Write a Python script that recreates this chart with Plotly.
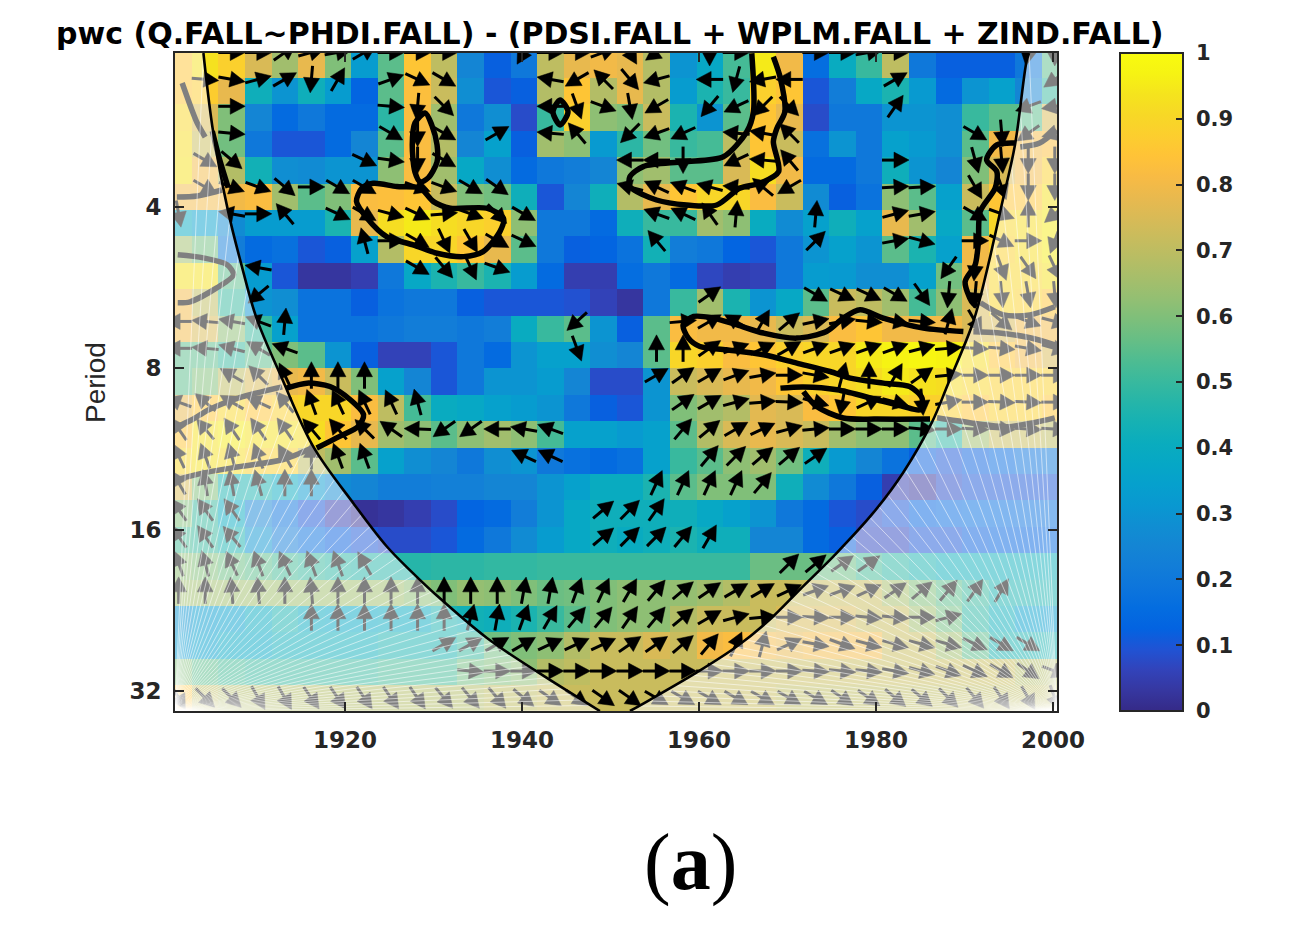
import math
import numpy as np
import plotly.graph_objects as go

TITLE = "pwc (Q.FALL~PHDI.FALL) - (PDSI.FALL + WPLM.FALL + ZIND.FALL)"
X_TICKS = [1920, 1940, 1960, 1980, 2000]
Y_TICKS = [2, 3, 4, 5]
Y_TICK_TEXT = ["4", "8", "16", "32"]
CB_TICKS = [0, .1, .2, .3, .4, .5, .6, .7, .8, .9, 1]
CB_TEXT = ["0", "0.1", "0.2", "0.3", "0.4", "0.5", "0.6", "0.7", "0.8", "0.9", "1"]

# Coherence (percent), top band first, one value per three years
coherence = [
 [85,93,88,75,65,78,60,33,55,85,70,25,12,20,70,78,80,78,68,30,38,52,95,80,16,40,50,70,20,12,12,12,20,55],
 [85,87,78,42,30,42,33,13,55,83,72,28,10,12,68,85,68,78,68,33,45,50,88,85,10,22,38,45,32,15,30,35,25,50],
 [90,75,60,25,15,20,15,15,48,82,65,20,28,8,50,88,62,60,72,45,30,55,85,78,8,20,20,30,30,28,50,55,55,75],
 [92,72,58,20,10,10,15,25,55,82,68,25,35,12,65,62,32,48,58,50,52,70,85,72,17,30,20,35,32,28,55,80,80,83],
 [93,80,68,43,28,27,30,30,62,82,65,38,28,15,20,22,25,62,65,55,55,75,92,80,15,15,20,42,30,25,60,75,80,88],
 [80,80,80,82,65,55,60,82,83,85,72,60,58,42,10,25,42,68,78,85,90,90,82,72,27,12,18,62,55,35,72,85,85,93],
 [40,35,27,33,33,33,45,78,92,95,92,90,88,62,20,20,15,42,50,50,65,62,40,27,35,42,35,78,65,38,55,90,92,95],
 [65,58,22,15,17,10,12,35,68,90,90,85,78,55,20,12,13,18,43,22,20,13,10,20,30,35,30,55,45,35,80,88,92,95],
 [93,93,55,33,10,3,3,5,20,38,45,50,45,33,15,5,5,16,20,15,7,5,6,20,33,32,28,28,35,58,80,90,90,93],
 [80,70,50,30,28,18,18,12,18,20,20,12,10,10,10,9,6,3,20,50,65,45,30,38,55,72,70,65,52,62,75,90,88,85],
 [80,75,62,50,35,18,18,18,20,22,22,20,22,40,50,55,30,12,55,82,80,80,78,72,75,82,85,80,80,80,75,75,80,80],
 [55,55,50,55,60,55,30,12,6,6,10,20,15,30,35,35,28,25,55,90,88,82,85,88,90,90,95,97,98,97,92,85,80,75],
 [55,60,70,75,78,80,72,60,35,25,10,20,30,30,33,25,8,8,30,72,75,78,80,85,88,90,92,95,93,92,90,88,88,88],
 [78,85,90,85,88,90,90,82,70,52,40,38,35,33,30,20,12,10,30,60,65,68,77,75,82,85,90,90,88,88,85,88,88,85],
 [85,93,95,93,93,92,85,78,65,62,55,62,65,62,52,35,35,32,35,55,68,75,78,75,72,65,62,62,55,48,65,72,72,70],
 [90,93,92,88,88,70,65,55,35,28,25,20,28,30,20,17,15,17,35,50,55,62,65,58,42,32,25,18,12,10,12,15,18,20],
 [75,60,45,45,40,32,27,25,22,22,23,23,25,25,30,35,40,40,45,55,60,60,60,42,27,20,12,5,3,8,10,10,10,10],
 [60,50,40,25,18,10,5,2,3,5,8,13,15,22,30,38,42,42,42,42,38,35,30,20,15,10,8,10,13,15,16,16,17,18],
 [52,50,45,30,22,17,12,10,8,8,10,15,20,27,33,38,42,40,42,45,42,42,25,25,15,12,7,7,10,10,12,13,13,14],
 [62,60,57,55,52,50,48,47,47,47,48,48,49,49,50,50,50,50,50,50,50,50,57,57,57,57,52,48,45,42,42,42,42,42],
 [65,65,65,65,65,65,65,65,65,62,60,63,62,60,57,58,60,62,62,63,65,68,72,72,72,72,72,66,60,55,50,45,45,45],
 [30,33,35,40,45,40,38,38,40,40,45,43,42,45,50,55,60,62,62,68,72,72,72,75,75,75,72,72,65,58,48,42,35,33],
 [32,35,38,38,42,42,42,42,45,45,45,50,58,60,62,68,72,72,75,72,80,82,80,78,80,80,80,72,72,65,55,45,45,45],
 [60,55,52,50,50,50,50,50,52,52,52,58,60,62,68,70,72,72,72,72,72,72,72,72,72,72,72,72,72,72,72,72,68,68],
 [85,70,68,68,68,68,68,68,68,68,68,68,70,70,72,72,72,72,72,72,72,72,72,70,70,70,70,70,70,70,70,70,70,70],
]
heat_years = [1901.2 + 3 * i for i in range(34)]
heat_log2_period = [1.119 + 0.1635 * r for r in range(25)]

# Phase arrows: screen angle in degrees at {column: angle}, top row first
phase_rows = [
 {2:0,3:0,4:35,5:15,6:10,7:30,8:0,9:0,10:0,13:-120,14:0,15:0,16:20,17:-60,18:215,20:-90,21:0,24:0,25:0,26:10,27:0,32:-100,33:-90},
 {1:-5,2:-10,3:15,4:30,5:-95,6:60,8:20,9:-25,10:-30,14:170,15:210,16:135,17:-50,18:195,20:180,21:255,22:190,23:180,27:30,33:215},
 {2:0,8:-5,9:-95,10:-45,14:180,15:-70,16:-20,17:-80,18:210,20:230,21:205,22:225,23:-45,27:55,32:200,33:190},
 {2:-5,8:-30,9:-90,10:-30,12:30,14:175,15:130,17:225,18:200,19:205,21:175,22:170,23:135,30:-30,31:-85,32:215,33:195},
 {1:-30,2:-40,7:-25,8:-8,9:-90,10:-30,17:180,18:180,19:-90,21:205,22:175,23:130,27:0,30:-75,31:-85,32:-90,33:-90},
 {1:-30,2:-20,3:-20,4:-40,5:0,6:-30,7:-30,9:-20,10:-20,11:-30,12:-35,17:165,18:155,19:160,20:165,21:175,22:140,23:210,27:3,28:3,30:-60,31:-70,32:-90,33:-90},
 {0:-80,2:170,3:0,4:130,6:-25,7:-30,8:-15,9:-25,10:5,11:-20,12:-45,13:-30,18:160,19:155,20:125,21:85,24:85,27:15,28:10,30:-30,31:-20,32:90,33:220},
 {7:105,8:0,9:-30,10:-65,11:-60,12:-30,13:-25,18:130,24:45,27:10,28:-15,30:0,31:-25,32:0,33:250},
 {3:170,9:-30,10:-50,11:-65,12:-20,29:235,30:-95,31:-70,32:-55,33:-65},
 {3:220,20:35,24:-30,25:-25,26:-25,27:-30,28:-55,29:-95,30:-95,31:-85,32:-80,33:-85},
 {0:180,1:175,2:170,3:160,4:85,15:222,19:5,20:30,21:150,22:60,23:40,24:12,25:10,26:-5,27:-10,28:-5,29:75,30:-60,31:-40,32:-20,33:-15},
 {0:180,1:175,2:165,3:150,4:160,15:-70,19:90,18:90,20:35,21:20,22:25,23:30,24:20,25:20,26:20,27:20,28:15,29:5,30:-3,31:-5,32:-10,33:-15},
 {2:150,3:135,4:115,5:90,6:90,7:90,18:30,19:35,20:30,21:20,22:10,23:0,24:-10,25:75,26:90,27:60,28:35,29:5,30:0,31:0,32:0,33:0},
 {0:160,1:140,2:150,3:155,4:130,5:110,6:115,7:115,8:115,9:105,19:35,20:30,21:15,22:5,23:-3,24:-15,25:-100,26:25,27:-15,28:-85,29:10,30:0,31:-3,32:-3,33:0},
 {0:125,1:130,2:125,3:125,4:125,5:130,6:130,7:135,8:145,9:178,10:215,11:215,12:180,13:170,14:160,19:50,20:40,21:30,22:25,23:15,24:5,25:0,26:0,27:0,28:-5,29:0,30:-3,31:-3,32:-3,33:-3},
 {0:115,1:110,2:105,3:110,4:120,5:90,6:110,7:110,13:155,14:155,20:50,21:45,22:40,23:40,24:35},
 {0:120,1:100,2:100,3:105,4:90,5:90,18:65,19:65,20:65,21:65,22:50},
 {0:125,1:125,2:125,16:40,17:45,18:55},
 {0:125,1:125,2:130,16:40,17:45,18:45,19:50,20:60},
 {0:110,1:105,2:115,3:110,4:115,5:110,6:110,7:120,23:45,24:40,25:35,26:35},
 {0:90,1:90,2:95,3:95,4:90,5:95,6:90,7:90,8:90,9:90,10:90,11:90,12:90,13:80,14:80,15:70,16:65,17:60,18:50,19:40,20:35,21:30,22:30,23:25,24:20,25:20,26:25,27:35,28:40,29:50,30:55,31:60},
 {5:90,6:90,7:90,8:90,9:90,10:90,11:75,12:80,13:70,14:60,15:50,16:50,17:55,18:50,19:40,20:30,21:15,22:5,23:0,24:-3,25:0,26:-5,27:-5,28:0,29:15},
 {10:30,11:30,12:30,13:30,14:25,15:25,16:25,17:35,18:35,19:40,20:50,21:65,22:75,23:25,24:-10,25:-20,26:-15,27:-15,28:-15,29:-15,30:-25,31:-30,32:-30},
 {11:-5,12:0,13:0,14:0,15:0,16:0,17:0,18:0,19:0,20:0,21:0,22:0,23:0,24:-3,25:-5,26:-5,27:-10,28:-15,29:-20,30:-25,31:-30,32:-35,33:-20},
 {0:-60,1:-45,2:-45,3:-60,4:-60,5:-55,6:-55,7:-55,8:-55,9:-55,10:-50,11:-50,12:-50,13:-40,14:-35,15:-35,16:-35,17:-35,18:-30,19:-30,20:-30,21:-30,22:-30,23:-30,24:-30,25:-35,26:-35,27:-40,28:-40,29:-45,30:-50,31:-55,32:-60,33:-70},
]
arrow_years = [1901.2 + 3 * i for i in range(34)]
arrow_log2_period = [1.043 + r / 6 for r in range(25)]

# Cone of influence
coi_left_years = [1904, 1905.1, 1906.8, 1908.3, 1910, 1912.7, 1916.4, 1920.9, 1924.7, 1927.5, 1930.4, 1936, 1941.7, 1948.8]
coi_left_log2 = [1.046, 1.534, 2.029, 2.359, 2.689, 3.04, 3.484, 3.833, 4.103, 4.26, 4.41, 4.67, 4.88, 5.124]
coi_right_years = [1952.2, 1954.5, 1959.75, 1964.3, 1968, 1971.4, 1975.6, 1979.7, 1983.06, 1986.3, 1988.1, 1991, 1992.5, 1994.2, 1995.7, 1997, 1997.3]
coi_right_log2 = [5.124, 5.053, 4.885, 4.723, 4.557, 4.371, 4.142, 3.895, 3.647, 3.337, 3.102, 2.71, 2.4, 1.988, 1.616, 1.1, 1.046]

# Significance contours: (years, log2 period)
contours = [
 ([1905.0, 1905.8, 1906.8], [1.53, 1.70, 1.88]),
 ([1929.05, 1927.9, 1927.6, 1927.9, 1928.5, 1929.4, 1930.4, 1930.4, 1929.8, 1929.05],
  [1.418, 1.48, 1.616, 1.783, 1.845, 1.82, 1.721, 1.616, 1.492, 1.418]),
 ([1921.9, 1923.2, 1925.85, 1928.5, 1930, 1931.9, 1936, 1937.9, 1937.5, 1935.6, 1933.4, 1930.4, 1927.7, 1924.7, 1922.5, 1921.3, 1921.9],
  [1.884, 1.853, 1.874, 1.884, 1.967, 2.008, 2.008, 2.07, 2.153, 2.277, 2.308, 2.287, 2.235, 2.184, 2.07, 1.967, 1.884]),
 ([1944.3, 1943.5, 1944.3, 1945.2, 1944.3], [1.337, 1.41, 1.492, 1.41, 1.337]),
 ([1965.96, 1966.15, 1965.4, 1962.75, 1958.2, 1953.7, 1952.2, 1952.2, 1955.2, 1958.6, 1962, 1964.6, 1966.9, 1969, 1968.4, 1968.8, 1969.7, 1969.2, 1968.4],
  [1.048, 1.41, 1.534, 1.689, 1.72, 1.75, 1.812, 1.874, 1.957, 1.988, 1.988, 1.884, 1.853, 1.781, 1.596, 1.513, 1.41, 1.203, 1.069]),
 ([1995.7, 1993.65, 1992.5, 1993.65, 1993.46, 1991.76, 1991.57, 1991.2, 1990.07, 1990.8, 1991.4],
  [1.604, 1.616, 1.709, 1.781, 1.884, 2.029, 2.215, 2.359, 2.463, 2.586, 2.617]),
 ([1989.87, 1985.35, 1980.83, 1978.2, 1976.3, 1974.4, 1971.05, 1967.3, 1964.3, 1961.6, 1959.4, 1958.2, 1958.8, 1960.1, 1963.1, 1967.3, 1971.05, 1974.8, 1977.1, 1980.83, 1983.8, 1985.2, 1985, 1983.1, 1980.1, 1975.6, 1971.8, 1969.2],
  [2.772, 2.751, 2.689, 2.638, 2.689, 2.772, 2.813, 2.782, 2.731, 2.689, 2.679, 2.731, 2.813, 2.865, 2.885, 2.916, 2.968, 3.02, 3.061, 3.092, 3.113, 3.185, 3.257, 3.237, 3.195, 3.133, 3.116, 3.123]),
 ([1971.8, 1973.3, 1976.3, 1980.1, 1986.1], [3.144, 3.237, 3.308, 3.315, 3.315]),
 ([1913.4, 1915.7, 1918.3, 1920.6, 1922.1, 1921.5, 1919.4, 1916.8],
  [3.123, 3.092, 3.113, 3.195, 3.288, 3.36, 3.422, 3.494]),
 # outside the cone, seen through the veil
 ([1901, 1903.3, 1906.1], [1.938, 1.932, 1.895]),
 ([1901.6, 1902.7, 1903.3, 1904.2], [1.232, 1.399, 1.48, 1.567]),
 ([1901.1, 1904, 1906.7, 1907.4, 1905.5, 1902.5, 1901.1], [2.297, 2.316, 2.359, 2.421, 2.502, 2.588, 2.594]),
 ([1901, 1902.7, 1904.6, 1908, 1912.9], [3.362, 3.319, 3.257, 3.183, 3.115]),
 ([1901, 1904.2, 1908, 1912.9, 1916.3], [3.69, 3.647, 3.61, 3.567, 3.492]),
 ([1991.8, 1994.4, 1997.4, 2000.2], [2.594, 2.669, 2.669, 2.619]),
 ([1991, 1993.7, 1997.4, 2000.2], [2.774, 2.78, 2.811, 2.855]),
 ([1986.9, 1990.6, 1994.8, 1997.8, 2000.2], [3.307, 3.337, 3.362, 3.337, 3.307]),
 ([1996.3, 1998.5, 2000.4], [1.628, 1.604, 1.523]),
]

PARULA = [
 (.2081,.1663,.5292),(.2123,.2138,.6270),(.1959,.2645,.7279),(.1253,.3242,.8303),(.0117,.3875,.8820),
 (.0165,.4266,.8786),(.0498,.4586,.8641),(.0723,.4887,.8467),(.0793,.5200,.8312),(.0641,.5570,.8240),
 (.0343,.5966,.8199),(.0239,.6287,.8038),(.0228,.6535,.7768),(.0384,.6743,.7436),(.0843,.6928,.7062),
 (.1453,.7098,.6646),(.2178,.7250,.6193),(.3022,.7376,.5712),(.3953,.7459,.5244),(.4871,.7491,.4840),
 (.5709,.7485,.4494),(.6473,.7456,.4188),(.7184,.7411,.3905),(.7858,.7356,.3633),(.8507,.7299,.3360),
 (.9139,.7258,.3063),(.9739,.7314,.2666),(.9990,.7653,.2164),(.9880,.8066,.1794),(.9697,.8481,.1475),
 (.9589,.8949,.1132),(.9661,.9514,.0755),(.9763,.9831,.0538),
]
colorscale = [[i / (len(PARULA) - 1), f"rgb({r*255:.0f},{g*255:.0f},{b*255:.0f})"] for i, (r, g, b) in enumerate(PARULA)]

# layout
PLOT_W, PLOT_H = 882, 658
X0, X1 = 1900.79, 2000.45
Y_TOP, Y_BOT = 1.046, 5.124
px_x = PLOT_W / (X1 - X0)
px_y = PLOT_H / (Y_BOT - Y_TOP)
ARROW_LEN, HEAD_LEN, HEAD_HALF = 27, 15, 8
DARK = "#262626"
FONT = "DejaVu Sans"

shaft_x, shaft_y, head_x, head_y = [], [], [], []
for r, row in enumerate(phase_rows):
    for col, deg in row.items():
        xc, yc = arrow_years[col], arrow_log2_period[r]
        c, s = math.cos(math.radians(deg)), math.sin(math.radians(deg))
        def pt(a, b):
            return xc + (a * c - b * s) / px_x, yc - (a * s + b * c) / px_y
        t0, t1 = pt(-ARROW_LEN / 2, 0), pt(ARROW_LEN / 2 - HEAD_LEN + 1, 0)
        shaft_x += [t0[0], t1[0], None]
        shaft_y += [t0[1], t1[1], None]
        a, b, d = pt(ARROW_LEN / 2, 0), pt(ARROW_LEN / 2 - HEAD_LEN, HEAD_HALF), pt(ARROW_LEN / 2 - HEAD_LEN, -HEAD_HALF)
        head_x += [a[0], b[0], d[0], a[0], None]
        head_y += [a[1], b[1], d[1], a[1], None]

fig = go.Figure()
fig.add_trace(go.Heatmap(
    x=heat_years, y=heat_log2_period, z=[[v / 100 for v in row] for row in coherence],
    zmin=0, zmax=1, colorscale=colorscale, hoverinfo="skip",
    colorbar=dict(thickness=63, thicknessmode="pixels", len=1, lenmode="fraction", x=945 / PLOT_W, xanchor="left",
                  y=0.5, yanchor="middle", xpad=0, ypad=0, outlinewidth=2, outlinecolor=DARK,
                  tickvals=CB_TICKS, ticktext=["\u00a0" + t for t in CB_TEXT], ticks="inside", ticklen=8, tickwidth=2, tickcolor=DARK,
                  tickfont=dict(family=FONT, size=21, color=DARK, weight="bold")),
))
fig.add_trace(go.Scatter(x=shaft_x, y=shaft_y, mode="lines", line=dict(color="black", width=3), hoverinfo="skip"))
fig.add_trace(go.Scatter(x=head_x, y=head_y, mode="lines", fill="toself", fillcolor="black",
                         line=dict(color="black", width=0.5), hoverinfo="skip"))
for cx, cy in contours:
    fig.add_trace(go.Scatter(x=cx, y=cy, mode="lines", line=dict(color="black", width=5.5, shape="spline", smoothing=0.8), hoverinfo="skip"))

# white veil outside the cone of influence
veil_left_x = [X0] + coi_left_years + [X0, X0]
veil_left_y = [Y_TOP] + coi_left_log2 + [Y_BOT, Y_TOP]
veil_right_x = [X1] + coi_right_years[::-1] + [X1, X1]
veil_right_y = [Y_TOP] + coi_right_log2[::-1] + [Y_BOT, Y_TOP]
for vx, vy in ((veil_left_x, veil_left_y), (veil_right_x, veil_right_y)):
    fig.add_trace(go.Scatter(x=vx, y=vy, mode="lines", fill="toself", fillcolor="rgba(255,255,255,0.5)",
                             line=dict(width=0), hoverinfo="skip"))

# fan of thin lines inside the veil
fan_x, fan_y = [], []
for lo, hi, corner, xs, ys in ((1904, 1948.8, X0, coi_left_years, coi_left_log2),
                               (1952.2, 1997.3, X1, coi_right_years, coi_right_log2)):
    for xv in np.linspace(lo, hi, 46):
        fan_x += [corner, float(xv), None]
        fan_y += [Y_BOT, float(np.interp(xv, xs, ys)), None]
fig.add_trace(go.Scatter(x=fan_x, y=fan_y, mode="lines", line=dict(color="rgba(255,255,255,0.55)", width=1), hoverinfo="skip"))

for cx, cy in ((coi_left_years, coi_left_log2), (coi_right_years, coi_right_log2)):
    fig.add_trace(go.Scatter(x=cx, y=cy, mode="lines", line=dict(color="black", width=2.6, shape="spline", smoothing=1), hoverinfo="skip"))

axis_common = dict(showgrid=False, zeroline=False, showline=True, linewidth=2, linecolor=DARK, mirror="ticks",
                   ticks="inside", ticklen=9, tickwidth=2, tickcolor=DARK, ticklabelstandoff=7,
                   tickfont=dict(family=FONT, size=23, color=DARK, weight="bold"))
fig.update_layout(
    width=1290, height=929, showlegend=False, paper_bgcolor="white", plot_bgcolor="white",
    margin=dict(l=167, r=241, t=45, b=226, autoexpand=False),
    xaxis=dict(range=[X0, X1], tickvals=X_TICKS, ticktext=[str(t) for t in X_TICKS], **axis_common),
    yaxis=dict(range=[Y_BOT, Y_TOP], tickvals=Y_TICKS, ticktext=Y_TICK_TEXT, **axis_common),
    annotations=[
        dict(text=f"<b>{TITLE}</b>", x=434.5 / PLOT_W, y=1 + 20 / PLOT_H, xref="paper", yref="paper", showarrow=False,
             xanchor="center", yanchor="middle", font=dict(family=FONT, size=30, color="black")),
        dict(text="Period", x=-80 / PLOT_W, y=1 - 330 / PLOT_H, xref="paper", yref="paper", showarrow=False,
             textangle=-90, xanchor="center", yanchor="middle", font=dict(family="Liberation Sans", size=28, color=DARK)),
        dict(text="(<b>a</b>)", x=515 / PLOT_W, y=1 - 809 / PLOT_H, xref="paper", yref="paper", showarrow=False,
             xanchor="center", yanchor="middle", font=dict(family="Liberation Serif", size=80, color="black")),
    ],
)
fig.write_html("out.html")
